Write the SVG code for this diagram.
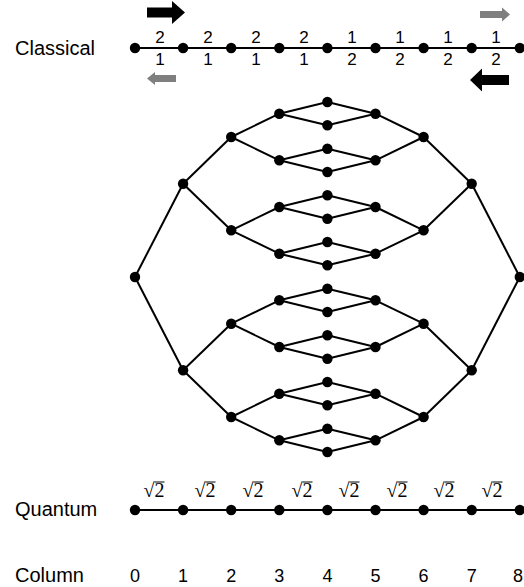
<svg xmlns="http://www.w3.org/2000/svg" width="524" height="587" viewBox="0 0 524 587">
<style>
.lbl{font-family:"Liberation Sans",Arial,sans-serif;font-size:20px;fill:#000}
.num{font-family:"Liberation Sans",Arial,sans-serif;font-size:17px;fill:#000;text-anchor:middle}
.col{font-family:"Liberation Sans",Arial,sans-serif;font-size:18px;fill:#000;text-anchor:middle}
.sq{font-family:"Liberation Serif","Times New Roman",serif;font-size:20px;fill:#000;text-anchor:middle}
.ov{stroke:#000;stroke-width:1}
.e line{stroke:#000;stroke-width:2;fill:none}
.blk{fill:#000}
.gry{fill:#7f7f7f}
</style>
<defs>
<circle id="dot" r="5.2"/>
</defs>
<rect width="524" height="587" fill="#fff"/>

<!-- row labels -->
<text class="lbl" x="15" y="55">Classical</text>
<text class="lbl" x="15" y="516">Quantum</text>
<text class="lbl" x="15" y="582">Column</text>

<!-- direction arrows -->
<polygon class="blk" points="147,7.5 172,7.5 172,1 185,12.5 172,24 172,17.5 147,17.5"/>
<polygon class="gry" points="176,75 155,75 155,72 147,78.5 155,85 155,82 176,82"/>
<polygon class="gry" points="480,11 502,11 502,7.5 510,14.5 502,21.5 502,18 480,18"/>
<polygon class="blk" points="509,75 482,75 482,68.5 470,80 482,91.5 482,85 509,85"/>

<!-- connectors -->
<g id="connectors" class="e">
<line x1="135" y1="48" x2="519.8" y2="48"/>
<line x1="135" y1="510" x2="519.8" y2="510"/>
<!-- left tree -->
<line x1="135" y1="277" x2="183.1" y2="183.7"/>
<line x1="135" y1="277" x2="183.1" y2="370.3"/>
<line x1="183.1" y1="183.7" x2="231.2" y2="137"/>
<line x1="183.1" y1="183.7" x2="231.2" y2="230.3"/>
<line x1="183.1" y1="370.3" x2="231.2" y2="323.7"/>
<line x1="183.1" y1="370.3" x2="231.2" y2="417"/>
<line x1="231.2" y1="137" x2="279.3" y2="113.7"/>
<line x1="231.2" y1="137" x2="279.3" y2="160.3"/>
<line x1="231.2" y1="230.3" x2="279.3" y2="207"/>
<line x1="231.2" y1="230.3" x2="279.3" y2="253.7"/>
<line x1="231.2" y1="323.7" x2="279.3" y2="300.3"/>
<line x1="231.2" y1="323.7" x2="279.3" y2="347"/>
<line x1="231.2" y1="417" x2="279.3" y2="393.7"/>
<line x1="231.2" y1="417" x2="279.3" y2="440.3"/>
<line x1="279.3" y1="113.7" x2="327.4" y2="102"/>
<line x1="279.3" y1="113.7" x2="327.4" y2="125.3"/>
<line x1="279.3" y1="160.3" x2="327.4" y2="148.7"/>
<line x1="279.3" y1="160.3" x2="327.4" y2="172"/>
<line x1="279.3" y1="207" x2="327.4" y2="195.3"/>
<line x1="279.3" y1="207" x2="327.4" y2="218.7"/>
<line x1="279.3" y1="253.7" x2="327.4" y2="242"/>
<line x1="279.3" y1="253.7" x2="327.4" y2="265.3"/>
<line x1="279.3" y1="300.3" x2="327.4" y2="288.7"/>
<line x1="279.3" y1="300.3" x2="327.4" y2="312"/>
<line x1="279.3" y1="347" x2="327.4" y2="335.3"/>
<line x1="279.3" y1="347" x2="327.4" y2="358.7"/>
<line x1="279.3" y1="393.7" x2="327.4" y2="382"/>
<line x1="279.3" y1="393.7" x2="327.4" y2="405.3"/>
<line x1="279.3" y1="440.3" x2="327.4" y2="428.7"/>
<line x1="279.3" y1="440.3" x2="327.4" y2="452"/>
<!-- right tree -->
<line x1="519.8" y1="277" x2="471.7" y2="183.7"/>
<line x1="519.8" y1="277" x2="471.7" y2="370.3"/>
<line x1="471.7" y1="183.7" x2="423.6" y2="137"/>
<line x1="471.7" y1="183.7" x2="423.6" y2="230.3"/>
<line x1="471.7" y1="370.3" x2="423.6" y2="323.7"/>
<line x1="471.7" y1="370.3" x2="423.6" y2="417"/>
<line x1="423.6" y1="137" x2="375.5" y2="113.7"/>
<line x1="423.6" y1="137" x2="375.5" y2="160.3"/>
<line x1="423.6" y1="230.3" x2="375.5" y2="207"/>
<line x1="423.6" y1="230.3" x2="375.5" y2="253.7"/>
<line x1="423.6" y1="323.7" x2="375.5" y2="300.3"/>
<line x1="423.6" y1="323.7" x2="375.5" y2="347"/>
<line x1="423.6" y1="417" x2="375.5" y2="393.7"/>
<line x1="423.6" y1="417" x2="375.5" y2="440.3"/>
<line x1="375.5" y1="113.7" x2="327.4" y2="102"/>
<line x1="375.5" y1="113.7" x2="327.4" y2="125.3"/>
<line x1="375.5" y1="160.3" x2="327.4" y2="148.7"/>
<line x1="375.5" y1="160.3" x2="327.4" y2="172"/>
<line x1="375.5" y1="207" x2="327.4" y2="195.3"/>
<line x1="375.5" y1="207" x2="327.4" y2="218.7"/>
<line x1="375.5" y1="253.7" x2="327.4" y2="242"/>
<line x1="375.5" y1="253.7" x2="327.4" y2="265.3"/>
<line x1="375.5" y1="300.3" x2="327.4" y2="288.7"/>
<line x1="375.5" y1="300.3" x2="327.4" y2="312"/>
<line x1="375.5" y1="347" x2="327.4" y2="335.3"/>
<line x1="375.5" y1="347" x2="327.4" y2="358.7"/>
<line x1="375.5" y1="393.7" x2="327.4" y2="382"/>
<line x1="375.5" y1="393.7" x2="327.4" y2="405.3"/>
<line x1="375.5" y1="440.3" x2="327.4" y2="428.7"/>
<line x1="375.5" y1="440.3" x2="327.4" y2="452"/>
</g>

<!-- classical edge weights -->
<g id="classical-weights">
<text class="num" x="160" y="43">2</text><text class="num" x="160" y="65">1</text>
<text class="num" x="208" y="43">2</text><text class="num" x="208" y="65">1</text>
<text class="num" x="256" y="43">2</text><text class="num" x="256" y="65">1</text>
<text class="num" x="304" y="43">2</text><text class="num" x="304" y="65">1</text>
<text class="num" x="352" y="43">1</text><text class="num" x="352" y="65">2</text>
<text class="num" x="400" y="43">1</text><text class="num" x="400" y="65">2</text>
<text class="num" x="448" y="43">1</text><text class="num" x="448" y="65">2</text>
<text class="num" x="496" y="43">1</text><text class="num" x="496" y="65">2</text>
</g>

<!-- quantum edge weights -->
<g id="quantum-weights">
<text class="sq" x="154" y="497">√2</text><line class="ov" x1="154.5" y1="482" x2="164.5" y2="482"/>
<text class="sq" x="205" y="497">√2</text><line class="ov" x1="205.5" y1="482" x2="215.5" y2="482"/>
<text class="sq" x="253" y="497">√2</text><line class="ov" x1="253.5" y1="482" x2="263.5" y2="482"/>
<text class="sq" x="302" y="497">√2</text><line class="ov" x1="302.5" y1="482" x2="312.5" y2="482"/>
<text class="sq" x="349" y="497">√2</text><line class="ov" x1="349.5" y1="482" x2="359.5" y2="482"/>
<text class="sq" x="397" y="497">√2</text><line class="ov" x1="397.5" y1="482" x2="407.5" y2="482"/>
<text class="sq" x="444" y="497">√2</text><line class="ov" x1="444.5" y1="482" x2="454.5" y2="482"/>
<text class="sq" x="492" y="497">√2</text><line class="ov" x1="492.5" y1="482" x2="502.5" y2="482"/>
</g>

<!-- column numbers -->
<g id="column-numbers">
<text class="col" x="135" y="582">0</text>
<text class="col" x="183.1" y="582">1</text>
<text class="col" x="231.2" y="582">2</text>
<text class="col" x="279.3" y="582">3</text>
<text class="col" x="327.4" y="582">4</text>
<text class="col" x="375.5" y="582">5</text>
<text class="col" x="423.6" y="582">6</text>
<text class="col" x="471.7" y="582">7</text>
<text class="col" x="518" y="582">8</text>
</g>

<!-- classical chain nodes -->
<g id="c0"><use href="#dot" x="135" y="48"/></g>
<g id="c1"><use href="#dot" x="183.1" y="48"/></g>
<g id="c2"><use href="#dot" x="231.2" y="48"/></g>
<g id="c3"><use href="#dot" x="279.3" y="48"/></g>
<g id="c4"><use href="#dot" x="327.4" y="48"/></g>
<g id="c5"><use href="#dot" x="375.5" y="48"/></g>
<g id="c6"><use href="#dot" x="423.6" y="48"/></g>
<g id="c7"><use href="#dot" x="471.7" y="48"/></g>
<g id="c8"><use href="#dot" x="519.8" y="48"/></g>

<!-- quantum chain nodes -->
<g id="q0"><use href="#dot" x="135" y="510"/></g>
<g id="q1"><use href="#dot" x="183.1" y="510"/></g>
<g id="q2"><use href="#dot" x="231.2" y="510"/></g>
<g id="q3"><use href="#dot" x="279.3" y="510"/></g>
<g id="q4"><use href="#dot" x="327.4" y="510"/></g>
<g id="q5"><use href="#dot" x="375.5" y="510"/></g>
<g id="q6"><use href="#dot" x="423.6" y="510"/></g>
<g id="q7"><use href="#dot" x="471.7" y="510"/></g>
<g id="q8"><use href="#dot" x="519.8" y="510"/></g>

<!-- glued-trees nodes -->
<g id="g0_0"><use href="#dot" x="135" y="277"/></g>
<g id="g1_0"><use href="#dot" x="183.1" y="183.7"/></g>
<g id="g1_1"><use href="#dot" x="183.1" y="370.3"/></g>
<g id="g2_0"><use href="#dot" x="231.2" y="137"/></g>
<g id="g2_1"><use href="#dot" x="231.2" y="230.3"/></g>
<g id="g2_2"><use href="#dot" x="231.2" y="323.7"/></g>
<g id="g2_3"><use href="#dot" x="231.2" y="417"/></g>
<g id="g3_0"><use href="#dot" x="279.3" y="113.7"/></g>
<g id="g3_1"><use href="#dot" x="279.3" y="160.3"/></g>
<g id="g3_2"><use href="#dot" x="279.3" y="207"/></g>
<g id="g3_3"><use href="#dot" x="279.3" y="253.7"/></g>
<g id="g3_4"><use href="#dot" x="279.3" y="300.3"/></g>
<g id="g3_5"><use href="#dot" x="279.3" y="347"/></g>
<g id="g3_6"><use href="#dot" x="279.3" y="393.7"/></g>
<g id="g3_7"><use href="#dot" x="279.3" y="440.3"/></g>
<g id="g4_0"><use href="#dot" x="327.4" y="102"/></g>
<g id="g4_1"><use href="#dot" x="327.4" y="125.3"/></g>
<g id="g4_2"><use href="#dot" x="327.4" y="148.7"/></g>
<g id="g4_3"><use href="#dot" x="327.4" y="172"/></g>
<g id="g4_4"><use href="#dot" x="327.4" y="195.3"/></g>
<g id="g4_5"><use href="#dot" x="327.4" y="218.7"/></g>
<g id="g4_6"><use href="#dot" x="327.4" y="242"/></g>
<g id="g4_7"><use href="#dot" x="327.4" y="265.3"/></g>
<g id="g4_8"><use href="#dot" x="327.4" y="288.7"/></g>
<g id="g4_9"><use href="#dot" x="327.4" y="312"/></g>
<g id="g4_10"><use href="#dot" x="327.4" y="335.3"/></g>
<g id="g4_11"><use href="#dot" x="327.4" y="358.7"/></g>
<g id="g4_12"><use href="#dot" x="327.4" y="382"/></g>
<g id="g4_13"><use href="#dot" x="327.4" y="405.3"/></g>
<g id="g4_14"><use href="#dot" x="327.4" y="428.7"/></g>
<g id="g4_15"><use href="#dot" x="327.4" y="452"/></g>
<g id="g5_0"><use href="#dot" x="375.5" y="113.7"/></g>
<g id="g5_1"><use href="#dot" x="375.5" y="160.3"/></g>
<g id="g5_2"><use href="#dot" x="375.5" y="207"/></g>
<g id="g5_3"><use href="#dot" x="375.5" y="253.7"/></g>
<g id="g5_4"><use href="#dot" x="375.5" y="300.3"/></g>
<g id="g5_5"><use href="#dot" x="375.5" y="347"/></g>
<g id="g5_6"><use href="#dot" x="375.5" y="393.7"/></g>
<g id="g5_7"><use href="#dot" x="375.5" y="440.3"/></g>
<g id="g6_0"><use href="#dot" x="423.6" y="137"/></g>
<g id="g6_1"><use href="#dot" x="423.6" y="230.3"/></g>
<g id="g6_2"><use href="#dot" x="423.6" y="323.7"/></g>
<g id="g6_3"><use href="#dot" x="423.6" y="417"/></g>
<g id="g7_0"><use href="#dot" x="471.7" y="183.7"/></g>
<g id="g7_1"><use href="#dot" x="471.7" y="370.3"/></g>
<g id="g8_0"><use href="#dot" x="519.8" y="277"/></g>
</svg>
